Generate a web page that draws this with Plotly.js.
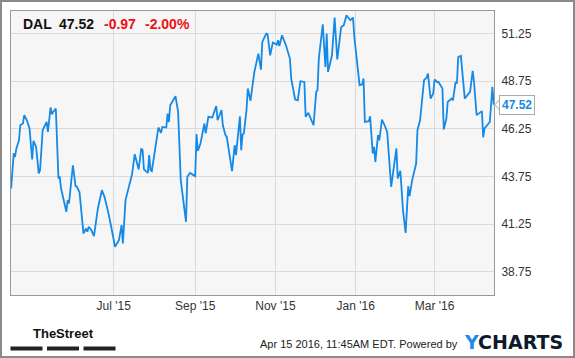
<!DOCTYPE html>
<html>
<head>
<meta charset="utf-8">
<script src="https://cdn.plot.ly/plotly-3.0.1.min.js"></script>
<style>
  html, body { margin: 0; padding: 0; background: #fff; }
  #wrap { position: relative; width: 575px; height: 358px; }
  #chart { width: 575px; height: 358px; }
  #frame { position: absolute; left: 0; top: 0; width: 575px; height: 358px; box-sizing: border-box; border: 2px solid #8a8a8a; pointer-events: none; }
</style>
</head>
<body>
<div id="wrap"><div id="chart"></div><div id="frame"></div></div>
<script>
// ---- data ----
const ticker = "DAL";
const lastPrice = 47.52;
const change = "-0.97";
const changePct = "-2.00%";

const dates = [
"2015-04-14","2015-04-16","2015-04-17","2015-04-18","2015-04-20","2015-04-21","2015-04-23","2015-04-24","2015-04-26","2015-04-28",
"2015-04-30","2015-05-01","2015-05-03","2015-05-05","2015-05-06","2015-05-08","2015-05-11","2015-05-12","2015-05-14","2015-05-15",
"2015-05-16","2015-05-18","2015-05-20","2015-05-21","2015-05-22","2015-05-26","2015-05-27","2015-05-28","2015-05-31","2015-06-02",
"2015-06-03","2015-06-05","2015-06-08","2015-06-10","2015-06-11","2015-06-12","2015-06-14","2015-06-16","2015-06-19","2015-06-22",
"2015-06-24","2015-06-25","2015-06-27","2015-06-29","2015-07-02","2015-07-05","2015-07-07","2015-07-08","2015-07-10","2015-07-15",
"2015-07-17","2015-07-20","2015-07-22","2015-07-23","2015-07-24","2015-07-27","2015-07-28","2015-07-29","2015-07-30","2015-08-04",
"2015-08-06","2015-08-07","2015-08-10","2015-08-11","2015-08-12","2015-08-13","2015-08-17","2015-08-19","2015-08-21","2015-08-25",
"2015-08-26","2015-08-28","2015-09-01","2015-09-02","2015-09-03","2015-09-05","2015-09-08","2015-09-09","2015-09-11","2015-09-14",
"2015-09-17","2015-09-18","2015-09-21","2015-09-22","2015-09-24","2015-09-25","2015-09-29","2015-10-01","2015-10-02","2015-10-05",
"2015-10-06","2015-10-07","2015-10-08","2015-10-10","2015-10-11","2015-10-13","2015-10-15","2015-10-16","2015-10-19","2015-10-21",
"2015-10-22","2015-10-25","2015-10-26","2015-10-28","2015-10-30","2015-11-02","2015-11-03","2015-11-04","2015-11-06","2015-11-09",
"2015-11-12","2015-11-13","2015-11-16","2015-11-18","2015-11-20","2015-11-23","2015-11-24","2015-11-26","2015-11-30","2015-12-02",
"2015-12-03","2015-12-04","2015-12-07","2015-12-09","2015-12-10","2015-12-11","2015-12-14","2015-12-16","2015-12-18","2015-12-21",
"2015-12-23","2015-12-25","2015-12-26","2015-12-28","2015-12-30","2015-12-31","2016-01-04","2016-01-06","2016-01-07","2016-01-08",
"2016-01-11","2016-01-12","2016-01-14","2016-01-15","2016-01-16","2016-01-18","2016-01-19","2016-01-21","2016-01-23","2016-01-25",
"2016-01-28","2016-01-30","2016-02-01","2016-02-02","2016-02-04","2016-02-06","2016-02-08","2016-02-10","2016-02-11","2016-02-13",
"2016-02-16","2016-02-17","2016-02-19","2016-02-22","2016-02-24","2016-02-25","2016-02-27","2016-02-29","2016-03-01","2016-03-03",
"2016-03-04","2016-03-07","2016-03-08","2016-03-10","2016-03-11","2016-03-14","2016-03-15","2016-03-17","2016-03-18","2016-03-19",
"2016-03-21","2016-03-24","2016-03-28","2016-03-30","2016-03-31","2016-04-02","2016-04-06","2016-04-07","2016-04-08","2016-04-12",
"2016-04-14","2016-04-15"
];

const prices = [
43.12,44.96,44.78,45.22,45.65,46.44,46.53,46.97,46.70,46.27,
44.64,45.62,45.30,43.91,44.08,46.18,46.61,46.09,47.37,47.02,
47.14,47.32,43.65,43.70,43.12,41.90,42.51,42.34,44.34,43.24,
43.21,42.94,40.76,41.02,40.85,41.11,40.94,40.62,42.07,43.03,
42.68,42.42,41.83,41.15,40.06,40.41,41.20,40.24,42.51,43.87,
44.92,44.12,45.22,45.13,44.12,43.94,44.87,44.08,44.03,46.32,
46.04,46.35,46.32,47.05,46.61,47.49,47.96,47.14,43.56,41.37,
43.73,43.94,43.77,45.97,45.09,45.48,46.53,46.01,46.88,46.85,
47.45,46.70,47.23,46.44,45.92,45.83,44.03,45.39,44.87,46.91,
45.13,45.97,46.01,47.23,48.37,47.72,48.80,49.24,50.20,49.36,
50.81,51.25,51.22,50.11,50.78,50.67,50.90,50.60,51.16,50.64,
49.94,48.89,47.79,47.75,48.75,48.71,46.88,47.09,46.44,48.19,
48.28,49.94,51.74,49.50,51.25,49.24,50.11,52.09,49.89,51.60,
51.69,52.21,52.12,51.95,52.09,51.07,48.54,48.59,48.89,46.61,
46.65,46.91,44.96,45.30,44.52,45.92,45.65,46.74,46.44,46.09,
43.21,44.34,45.22,43.65,44.05,41.98,40.79,43.24,42.72,43.56,
44.43,46.18,46.70,48.80,48.94,49.15,47.84,48.10,48.84,48.71,
48.71,48.37,46.22,46.79,47.66,47.84,47.75,48.71,48.63,50.02,
50.08,47.84,48.19,49.29,48.71,46.97,47.18,45.80,46.27,46.61,
48.45,47.52
];

const xTickDates = ["2015-07-01","2015-09-01","2015-11-01","2016-01-01","2016-03-01"];
const xTickLabels = ["Jul '15","Sep '15","Nov '15","Jan '16","Mar '16"];
const yTicks = [38.75, 41.25, 43.75, 46.25, 48.75, 51.25];
const footerText = "Apr 15 2016, 11:45AM EDT. Powered by";

// ---- layout helpers (pixel -> paper) ----
const M = {l: 11, r: 81, t: 11, b: 63};
const W = 575 - M.l - M.r, H = 358 - M.t - M.b;
const px = x => (x - M.l) / W;
const py = y => (M.t + H - y) / H;

const lineBlue = "#1589e6";
const red = "#ee1111";
const FONT = "Liberation Sans, Arial, sans-serif";

const trace = {
  x: dates, y: prices, type: "scatter", mode: "lines",
  line: {color: lineBlue, width: 1.8}, hoverinfo: "skip"
};

const yLast = prices[prices.length - 1];

const annotations = [
  {xref:"paper", yref:"paper", x:px(21), y:py(23.7), xanchor:"left", yanchor:"middle", showarrow:false,
   text:"<b>"+ticker+"</b>", font:{family:FONT, size:14, color:"#111"}},
  {xref:"paper", yref:"paper", x:px(57), y:py(23.7), xanchor:"left", yanchor:"middle", showarrow:false,
   text:"<b>"+lastPrice.toFixed(2)+"</b>", font:{family:FONT, size:14, color:"#111"}},
  {xref:"paper", yref:"paper", x:px(102), y:py(23.7), xanchor:"left", yanchor:"middle", showarrow:false,
   text:"<b>"+change+"</b>", font:{family:FONT, size:14, color:red}},
  {xref:"paper", yref:"paper", x:px(143), y:py(23.7), xanchor:"left", yanchor:"middle", showarrow:false,
   text:"<b>"+changePct+"</b>", font:{family:FONT, size:14, color:red}},
  // last value callout
  {xref:"paper", yref:"y", x:px(499), y:yLast, xanchor:"left", yanchor:"middle", showarrow:false,
   text:"<b>"+yLast.toFixed(2)+"</b>", font:{family:FONT, size:12, color:lineBlue},
   bgcolor:"#ffffff", bordercolor:"#aaaaaa", borderwidth:1, borderpad:2},
  // footer
  {xref:"paper", yref:"paper", x:px(63), y:py(333), xanchor:"center", yanchor:"middle", showarrow:false,
   text:"<b>TheStreet</b>", font:{family:"Liberation Sans Narrow, Arial Narrow, "+FONT, size:13, color:"#111"}},
  {xref:"paper", yref:"paper", x:px(460), y:py(344), xanchor:"right", yanchor:"middle", showarrow:false,
   text:footerText, font:{family:FONT, size:11, color:"#222"}},
  {xref:"paper", yref:"paper", x:px(462), y:py(342), xanchor:"left", yanchor:"middle", showarrow:false,
   text:"<b><span style='color:#1a8cf0'>Y</span>CHARTS</b>", font:{family:"DejaVu Sans, sans-serif", size:19, color:"#0c1b2c"}}
];

const barRects = [[10.5, 42.5], [47, 79], [83.5, 115.5]];
const shapes = barRects.map(b => ({
  type:"rect", xref:"paper", yref:"paper", x0:px(b[0]), x1:px(b[1]), y0:py(350.5), y1:py(346.5),
  fillcolor:"#222", line:{width:0}, layer:"above"
}));
shapes.push({
  type:"path", xref:"paper", yref:"y", xsizemode:"pixel", ysizemode:"pixel",
  xanchor:px(499), yanchor:yLast, path:"M1,6 L-4,0 L1,-6 Z",
  fillcolor:"#ffffff", line:{color:"#aaaaaa", width:1}, layer:"above"
});

const layout = {
  width: 575, height: 358,
  margin: M,
  paper_bgcolor: "#ffffff",
  plot_bgcolor: "#f6f6f6",
  showlegend: false,
  font: {family: FONT, size: 12, color: "#333"},
  xaxis: {
    type: "date",
    range: ["2015-04-13 22:00", "2016-04-15 05:00"],
    tickvals: xTickDates, ticktext: xTickLabels,
    showgrid: true, gridcolor: "#dadada", gridwidth: 1,
    zeroline: false, ticks: "",
    showline: true, mirror: true, linecolor: "#999", linewidth: 1,
    tickfont: {family: FONT, size: 12, color: "#333"}
  },
  yaxis: {
    side: "right",
    range: [37.53, 52.435],
    tickvals: yTicks, tickformat: ".2f",
    showgrid: true, gridcolor: "#dadada", gridwidth: 1,
    zeroline: false, ticks: "",
    ticklabelstandoff: 4,
    showline: true, mirror: true, linecolor: "#999", linewidth: 1,
    tickfont: {family: FONT, size: 12, color: "#333"}
  },
  annotations: annotations,
  shapes: shapes
};

Plotly.newPlot("chart", [trace], layout, {staticPlot: true, displayModeBar: false});
</script>
</body>
</html>
